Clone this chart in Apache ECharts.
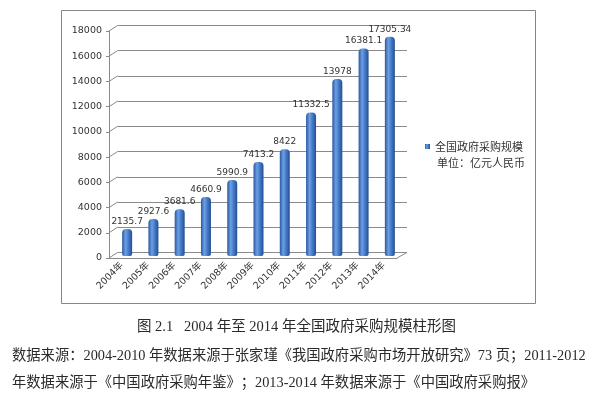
<!DOCTYPE html>
<html>
<head>
<meta charset="utf-8">
<script src="https://cdn.jsdelivr.net/npm/echarts@6/dist/echarts.min.js"></script>
<style>
  html, body { margin: 0; padding: 0; background: #ffffff; }
  #chart { width: 604px; height: 398px; }
</style>
</head>
<body>
<div id="chart"></div>
<script>
// values
const years = ["2004年", "2005年", "2006年", "2007年", "2008年", "2009年", "2010年", "2011年", "2012年", "2013年", "2014年"];
const scaleValues = [2135.7, 2927.6, 3681.6, 4660.9, 5990.9, 7413.2, 8422, 11332.5, 13978, 16381.1, 17305.34];
const labelTexts = ["2135.7", "2927.6", "3681.6", "4660.9", "5990.9", "7413.2", "8422", "11332.5", "13978", "16381.1", "17305.34"];
const yTicks = [0, 2000, 4000, 6000, 8000, 10000, 12000, 14000, 16000, 18000];
const seriesName = "全国政府采购规模";
const unitText = "单位：亿元人民币";
const captionLines = [
  "图 2.1   2004 年至 2014 年全国政府采购规模柱形图",
  "数据来源：2004-2010 年数据来源于张家瑾《我国政府采购市场开放研究》73 页；2011-2012",
  "年数据来源于《中国政府采购年鉴》；2013-2014 年数据来源于《中国政府采购报》",
];

const latin = "'DejaVu Sans', 'Noto Sans CJK SC', sans-serif";
const cjk = "'Noto Sans CJK SC', sans-serif";
const serif = "'Liberation Serif', 'Noto Sans CJK SC', serif";
const gridColor = "#8a8a8a";

const chart = echarts.init(document.getElementById("chart"), null, { renderer: "canvas" });

const barColor = new echarts.graphic.LinearGradient(0, 0, 1, 0, [
  { offset: 0, color: "#2a58a0" },
  { offset: 0.35, color: "#6c9fe4" },
  { offset: 0.65, color: "#4378c6" },
  { offset: 1, color: "#244e92" },
]);

// little diagonals joining the front axis ticks to the back wall lines
function renderDepth(params, api) {
  const cs = params.coordSys;
  const y = api.coord([0, api.value(1)])[1];
  const style = { stroke: gridColor, lineWidth: 1 };
  const children = [
    { type: "line", shape: { x1: cs.x, y1: y, x2: cs.x + 8.5, y2: y - 5.5 }, style },
  ];
  if (api.value(1) === 0) {
    children.push({ type: "line", shape: { x1: cs.x + cs.width, y1: y, x2: cs.x + cs.width + 10, y2: y - 5.5 }, style });
  }
  return { type: "group", children };
}

chart.setOption({
  animation: false,
  backgroundColor: "#ffffff",
  grid: [
    { left: 109, top: 31, width: 288, height: 227 },
    { left: 117.5, top: 25.5, width: 289.5, height: 227 },
    { left: 114, top: 28, width: 289, height: 228 },
  ],
  legend: {
    left: 425,
    top: 141,
    icon: "rect",
    itemWidth: 5,
    itemHeight: 5,
    itemGap: 5,
    padding: 0,
    textStyle: { color: "#333333", fontSize: 11, fontFamily: cjk },
    data: [seriesName],
  },
  xAxis: [
    {
      type: "category",
      gridIndex: 0,
      data: years,
      axisLine: { lineStyle: { color: gridColor } },
      axisTick: { length: 3, lineStyle: { color: gridColor } },
      axisLabel: { rotate: 45, fontSize: 9.5, color: "#333333", fontFamily: latin, margin: 6, interval: 0 },
      splitLine: { show: false },
    },
    { type: "category", gridIndex: 1, data: years, show: false },
    { type: "category", gridIndex: 2, data: years, show: false },
  ],
  yAxis: [
    {
      type: "value",
      gridIndex: 0,
      min: 0,
      max: 18000,
      interval: 2000,
      axisLine: { show: true, lineStyle: { color: gridColor } },
      axisTick: { show: true, length: 3, lineStyle: { color: gridColor } },
      axisLabel: { fontSize: 9.5, color: "#333333", fontFamily: latin, margin: 7, formatter: (v) => String(v) },
      splitLine: { show: false },
    },
    {
      type: "value",
      gridIndex: 1,
      min: 0,
      max: 18000,
      interval: 2000,
      axisLine: { show: false },
      axisTick: { show: false },
      axisLabel: { show: false },
      splitLine: { show: true, lineStyle: { color: gridColor, width: 1 } },
    },
    { type: "value", gridIndex: 2, min: 0, max: 18000, show: false, splitLine: { show: false } },
  ],
  series: [
    {
      type: "custom",
      xAxisIndex: 0,
      yAxisIndex: 0,
      silent: true,
      z: 1,
      renderItem: renderDepth,
      data: yTicks.map((v) => [0, v]),
    },
    {
      name: seriesName,
      type: "bar",
      xAxisIndex: 2,
      yAxisIndex: 2,
      data: scaleValues,
      barWidth: 10,
      z: 3,
      itemStyle: { color: barColor, borderRadius: [4, 4, 2, 2] },
      label: {
        show: true,
        position: "top",
        distance: 3,
        fontSize: 9,
        color: "#333333",
        fontFamily: latin,
        formatter: (p) => labelTexts[p.dataIndex],
      },
    },
  ],
  graphic: [
    {
      type: "rect",
      z: 0,
      silent: true,
      shape: { x: 61.5, y: 10.5, width: 474, height: 293 },
      style: { fill: "none", stroke: "#868686", lineWidth: 1 },
    },
    {
      type: "text",
      left: 437,
      top: 157,
      style: { text: unitText, fill: "#333333", font: "11px " + cjk },
    },
    {
      type: "text",
      left: 137,
      top: 320,
      style: { text: captionLines[0], fill: "#2a2a2a", font: "14.5px " + serif },
    },
    {
      type: "text",
      left: 12,
      top: 349,
      style: { text: captionLines[1], fill: "#2a2a2a", font: "14.3px " + serif },
    },
    {
      type: "text",
      left: 12,
      top: 376,
      style: { text: captionLines[2], fill: "#2a2a2a", font: "14.3px " + serif },
    },
  ],
});
</script>
</body>
</html>
